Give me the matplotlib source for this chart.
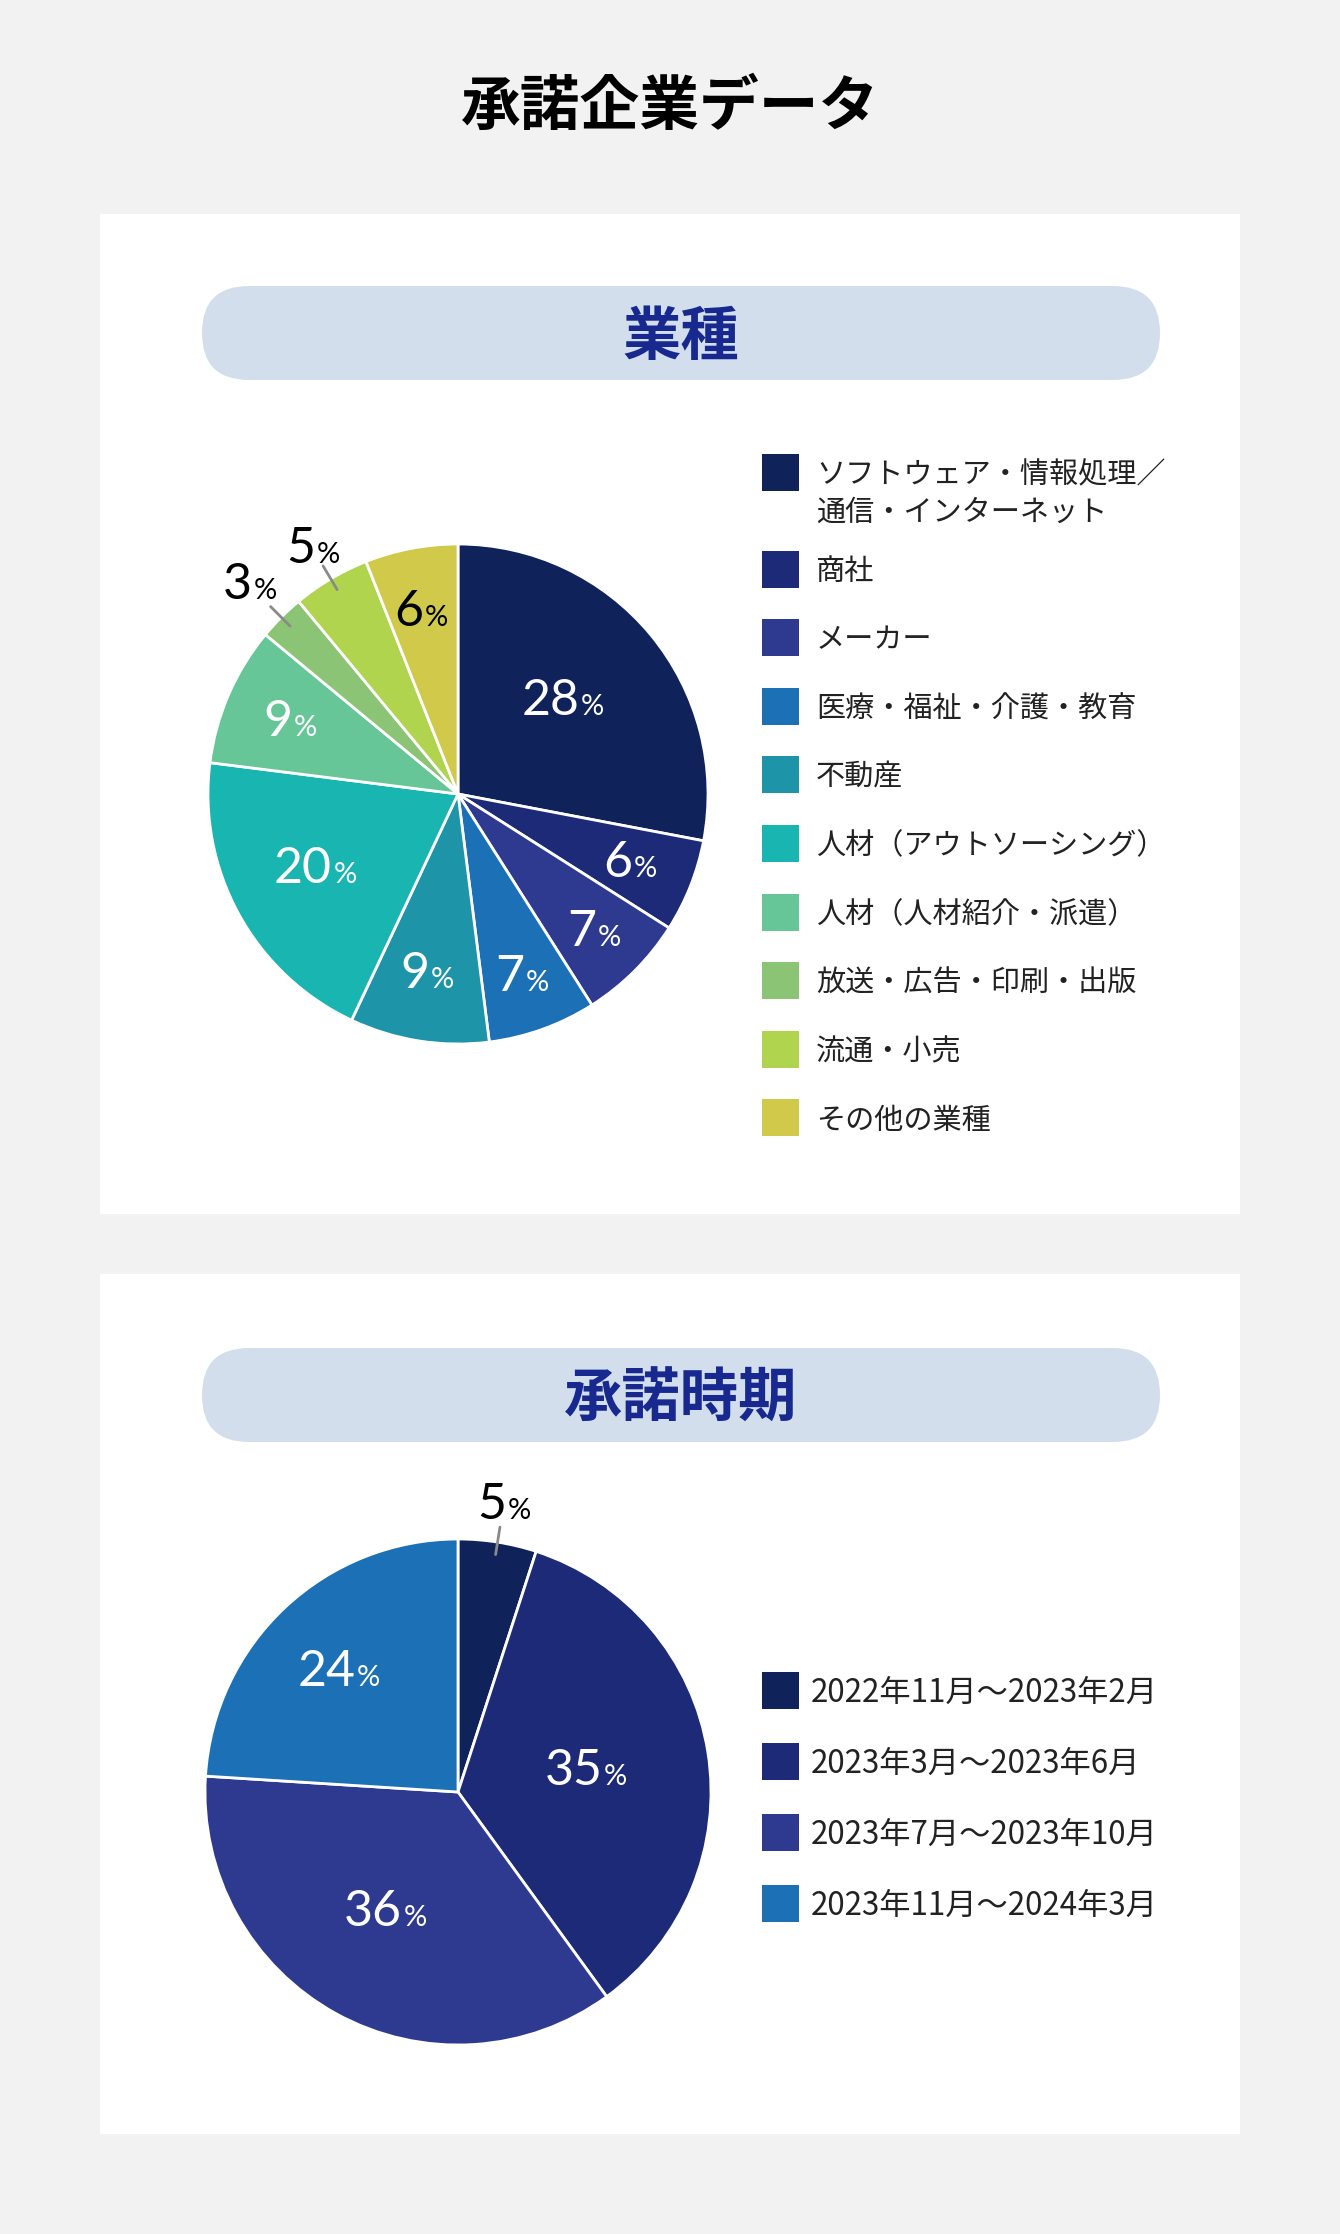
import numpy as np
import matplotlib
matplotlib.use("Agg")
from matplotlib import pyplot as plt
from matplotlib.patches import Rectangle, FancyBboxPatch

plt.rcParams['font.family'] = ['Noto Sans CJK JP', 'DejaVu Sans']

# data
title = "承諾企業データ"
head_1 = "業種"
head_2 = "承諾時期"

ind_labels = ["ソフトウェア・情報処理／\n通信・インターネット", "商社", "メーカー",
              "医療・福祉・介護・教育", "不動産", "人材（アウトソーシング）",
              "人材（人材紹介・派遣）", "放送・広告・印刷・出版", "流通・小売", "その他の業種"]
ind_values = [28, 6, 7, 7, 9, 20, 9, 3, 5, 6]
ind_colors = ["#0f2259", "#1c2a78", "#2e3a8f", "#1b70b6", "#1d94a8",
              "#19b5b0", "#66c698", "#8bc474", "#b0d44e", "#d0c94a"]

time_labels = ["2022年11月～2023年2月", "2023年3月～2023年6月",
               "2023年7月～2023年10月", "2023年11月～2024年3月"]
time_values = [5, 35, 36, 24]
time_colors = ["#0f2259", "#1c2a78", "#2e3a8f", "#1b70b6"]

# label placement (fraction of radius), text colour, leader line
ind_lab_r = [0.58, 0.75, 0.78, 0.78, 0.73, 0.62, 0.72, 1.18, 1.14, 0.74]
ind_lab_c = ["white"] * 7 + ["black", "black", "black"]
ind_lead = [False] * 7 + [True, True, False]
time_lab_r = [1.15, 0.54, 0.54, 0.65]
time_lab_c = ["black", "white", "white", "white"]
time_lead = [True, False, False, False]

W, H = 1340, 2234
fig = plt.figure(figsize=(W / 100, H / 100), dpi=100)
fig.patch.set_facecolor("#f2f2f2")

# background axes in pixel coords
bg = fig.add_axes([0, 0, 1, 1])
bg.set_xlim(0, W)
bg.set_ylim(H, 0)
bg.axis("off")

bg.text(670, 108, title, ha="center", va="center", fontsize=43,
        fontweight="bold", color="black")

for (y0, y1) in [(214, 1214), (1274, 2134)]:
    bg.add_patch(Rectangle((100, y0), 1140, y1 - y0, facecolor="white", edgecolor="none"))
for (y0, head) in [(286, head_1), (1348, head_2)]:
    bg.add_patch(FancyBboxPatch((202, y0), 958, 94,
                                boxstyle="round,pad=0,rounding_size=47",
                                facecolor="#d3deed", edgecolor="none"))
    bg.text(681, y0 + 52, head, ha="center", va="center", fontsize=42,
            fontweight="bold", color="#17298f")


def draw_pie(cx, cy, r, values, colors, lab_r, lab_c, lead):
    m = 1.35
    ax = fig.add_axes([(cx - m * r) / W, 1 - (cy + m * r) / H, 2 * m * r / W, 2 * m * r / H])
    ax.pie(values, colors=colors, startangle=90, counterclock=False, radius=1,
           wedgeprops=dict(edgecolor="white", linewidth=2))
    ax.set_xlim(-m, m)
    ax.set_ylim(-m, m)
    ax.axis("off")
    cum = np.cumsum([0] + values[:-1])
    total = sum(values)
    for v, c0, rr, col, ld in zip(values, cum, lab_r, lab_c, lead):
        ang = np.deg2rad(90 - 360 * (c0 + v / 2) / total)
        x, y = rr * np.cos(ang), rr * np.sin(ang)
        dx = 7 if v >= 10 else 0
        if ld:
            dx += 2
        ax.annotate(str(v), (x, y), xytext=(dx, -10), textcoords="offset points",
                    ha="right", va="baseline", fontsize=36, color=col, family="Lato")
        ax.annotate("%", (x, y), xytext=(dx + 1, -10), textcoords="offset points",
                    ha="left", va="baseline", fontsize=21, color=col, family="Lato")
        if ld:
            ax.plot([0.95 * np.cos(ang), 1.06 * np.cos(ang)],
                    [0.95 * np.sin(ang), 1.06 * np.sin(ang)],
                    color="#8a8a8a", lw=2, solid_capstyle="round")


draw_pie(458, 794, 250, ind_values, ind_colors, ind_lab_r, ind_lab_c, ind_lead)
draw_pie(458, 1792, 253, time_values, time_colors, time_lab_r, time_lab_c, time_lead)

# legend 1
ys = [472] + [569 + 68.6 * i for i in range(len(ind_labels) - 1)]
for lab, col, y in zip(ind_labels, ind_colors, ys):
    bg.add_patch(Rectangle((762, y - 18.5), 37, 37, facecolor=col, edgecolor="none"))
    lines = lab.split("\n")
    for k, ln in enumerate(lines):
        bg.text(816, y + 3 + 38 * k, ln, ha="left", va="center", fontsize=21, color="#222222")

# legend 2
for i, (lab, col) in enumerate(zip(time_labels, time_colors)):
    y = 1690 + 71 * i
    bg.add_patch(Rectangle((762, y - 18.5), 37, 37, facecolor=col, edgecolor="none"))
    bg.text(811, y + 3, lab, ha="left", va="center", fontsize=22.5, color="#222222")

fig.savefig("out.png", dpi=100, facecolor=fig.get_facecolor())
